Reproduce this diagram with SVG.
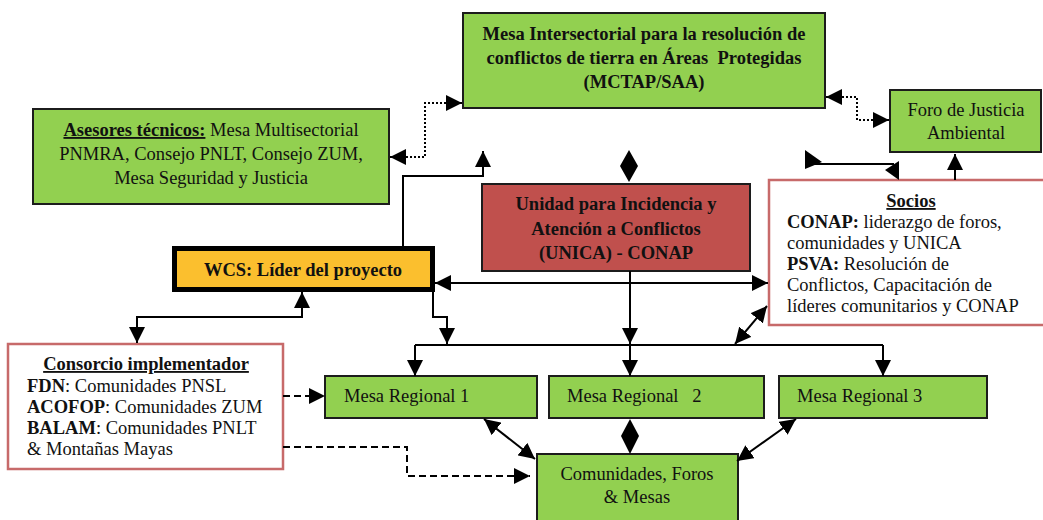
<svg xmlns="http://www.w3.org/2000/svg" width="1043" height="520" viewBox="0 0 1043 520">
<style>
.t{font-family:"Liberation Serif","Times New Roman",serif;font-size:18.5px;fill:#111}
.b{font-weight:bold}
.u{text-decoration:underline}
.g{fill:#92d050;stroke:#1c1c1c;stroke-width:2}
.r{fill:#fff;stroke:#c76a6a;stroke-width:2.5}
.c{fill:none;stroke:#000;stroke-width:2}
.dot{stroke-dasharray:2 2}
.dash{stroke-dasharray:7 4}
.ah{fill:#000}
</style>
<defs>
<marker id="a" viewBox="0 0 16 16" refX="16" refY="8" markerWidth="16" markerHeight="16" markerUnits="userSpaceOnUse" orient="auto-start-reverse">
<path d="M0,0 L16,8 L0,16 Z" fill="#000"/>
</marker>
</defs>
<rect x="0" y="0" width="1043" height="520" fill="#fff"/>
<g id="mesa-intersectorial">
<rect class="g" x="463" y="13" width="362" height="95"/>
<text class="t b" text-anchor="middle" x="644" y="40">Mesa Intersectorial para la resolución de</text>
<text class="t b" text-anchor="middle" x="644" y="64" xml:space="preserve">conflictos de tierra en Áreas  Protegidas</text>
<text class="t b" text-anchor="middle" x="644" y="88">(MCTAP/SAA)</text>
</g>
<g id="asesores">
<rect class="g" x="33" y="109" width="356" height="95"/>
<text class="t" text-anchor="middle" x="211" y="136"><tspan class="b u">Asesores técnicos:</tspan> Mesa Multisectorial</text>
<text class="t" text-anchor="middle" x="211" y="160">PNMRA, Consejo PNLT, Consejo ZUM,</text>
<text class="t" text-anchor="middle" x="211" y="184">Mesa Seguridad y Justicia</text>
</g>
<g id="foro">
<rect class="g" x="890" y="90" width="151" height="62"/>
<text class="t" text-anchor="middle" x="966" y="116">Foro de Justicia</text>
<text class="t" text-anchor="middle" x="966" y="139">Ambiental</text>
</g>
<g id="unica">
<rect x="482" y="184" width="268" height="87" fill="#c0504d" stroke="#1c1c1c" stroke-width="2"/>
<text class="t b" text-anchor="middle" x="616" y="210">Unidad para Incidencia y</text>
<text class="t b" text-anchor="middle" x="616" y="235">Atención a Conflictos</text>
<text class="t b" text-anchor="middle" x="616" y="259">(UNICA) - CONAP</text>
</g>
<g id="socios">
<rect class="r" x="769" y="180" width="290" height="145"/>
<text class="t b u" text-anchor="middle" x="911" y="207">Socios</text>
<text class="t" x="787" y="228"><tspan class="b">CONAP:</tspan> liderazgo de foros,</text>
<text class="t" x="787" y="249">comunidades y UNICA</text>
<text class="t" x="787" y="270"><tspan class="b">PSVA:</tspan> Resolución de</text>
<text class="t" x="787" y="291">Conflictos, Capacitación de</text>
<text class="t" x="787" y="312">líderes comunitarios y CONAP</text>
</g>
<g id="wcs">
<rect x="174.5" y="248.5" width="258" height="41" fill="#fbbf2e" stroke="#000" stroke-width="5"/>
<text class="t b" text-anchor="middle" x="303" y="276">WCS: Líder del proyecto</text>
</g>
<g id="consorcio">
<rect class="r" x="8" y="344" width="275" height="125"/>
<text class="t b u" text-anchor="middle" x="146" y="370">Consorcio implementador</text>
<text class="t" x="27" y="392"><tspan class="b">FDN</tspan>: Comunidades PNSL</text>
<text class="t" x="27" y="413"><tspan class="b">ACOFOP</tspan>: Comunidades ZUM</text>
<text class="t" x="27" y="434"><tspan class="b">BALAM</tspan>: Comunidades PNLT</text>
<text class="t" x="27" y="455">&amp; Montañas Mayas</text>
</g>
<g id="mesa-regional-1">
<rect class="g" x="325" y="376" width="212" height="42"/>
<text class="t" x="344" y="402">Mesa Regional 1</text>
</g>
<g id="mesa-regional-2">
<rect class="g" x="549" y="376" width="215" height="42"/>
<text class="t" x="567" y="402" xml:space="preserve">Mesa Regional   2</text>
</g>
<g id="mesa-regional-3">
<rect class="g" x="779" y="376" width="208" height="42"/>
<text class="t" x="797" y="402">Mesa Regional 3</text>
</g>
<g id="comunidades">
<rect class="g" x="537" y="454" width="201" height="75"/>
<text class="t" text-anchor="middle" x="637" y="480">Comunidades, Foros</text>
<text class="t" text-anchor="middle" x="637" y="503">&amp; Mesas</text>
</g>
<g id="connectors">
<path class="c dot" d="M462,103 H425 V157 H390" marker-start="url(#a)" marker-end="url(#a)"/>
<path class="c dot" d="M826,97 H857 V120 H889" marker-start="url(#a)" marker-end="url(#a)"/>
<path class="c" d="M403,246 V176 H483 V151" marker-end="url(#a)"/>
<polygon class="ah" points="629,150 638,166 629,182 620,166"/>
<path class="c" d="M810,164 H894"/>
<polygon class="ah" points="805,150 822,162 805,169"/>
<polygon class="ah" points="899,161 885,170 899,180"/>
<path class="c" d="M955,180 V154" marker-end="url(#a)"/>
<path class="c" d="M435,283 H768" marker-start="url(#a)" marker-end="url(#a)"/>
<path class="c" d="M433,292 V317 H447 V344" marker-end="url(#a)"/>
<path class="c" d="M137,343 V317 H302 V292" marker-start="url(#a)" marker-end="url(#a)"/>
<path class="c" d="M630,271 V344" marker-end="url(#a)"/>
<path class="c" d="M415,345 H883"/>
<path class="c" d="M415,345 V376" marker-end="url(#a)"/>
<path class="c" d="M630,345 V376" marker-end="url(#a)"/>
<path class="c" d="M883,345 V376" marker-end="url(#a)"/>
<path class="c" d="M735,344 L767,306" marker-start="url(#a)" marker-end="url(#a)"/>
<polygon class="ah" points="630,419 639,436 630,454 621,436"/>
<path class="c" d="M484,419 L535,459" marker-start="url(#a)" marker-end="url(#a)"/>
<path class="c" d="M796,419 L737,461" marker-start="url(#a)" marker-end="url(#a)"/>
<path class="c dash" d="M283,396 H325" marker-end="url(#a)"/>
<path class="c dash" d="M283,447 H407 V476 H530" marker-end="url(#a)"/>
</g>
</svg>
